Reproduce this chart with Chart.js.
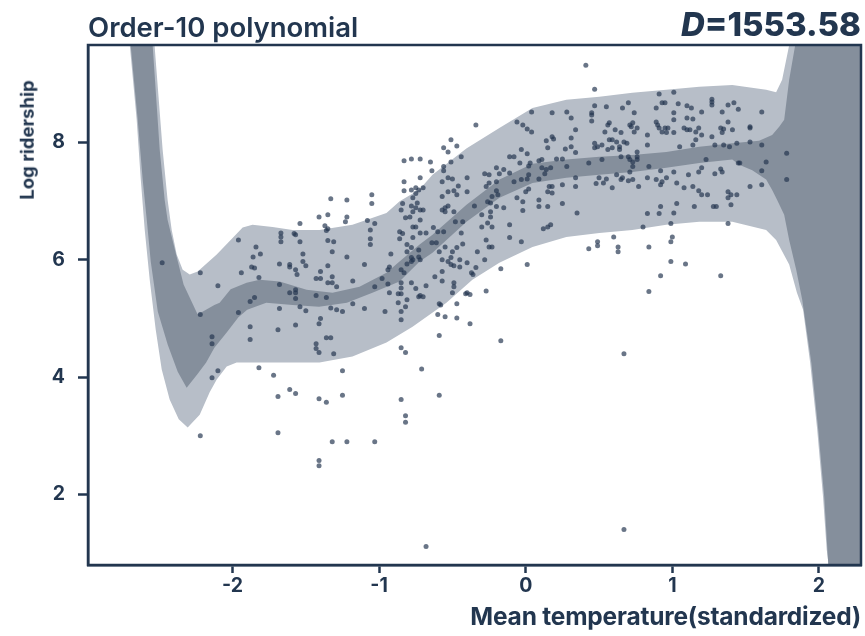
<!DOCTYPE html>
<html>
<head>
<meta charset="utf-8">
<script src="https://cdn.jsdelivr.net/npm/chart.js"></script>
<style>
html,body{margin:0;padding:0;background:#ffffff;}
#wrap{position:relative;width:865px;height:636px;overflow:hidden;}
#c{position:absolute;left:0;top:0;}
.t{position:absolute;font-family:Inter,"Open Sans","DejaVu Sans",sans-serif;color:#22364f;white-space:nowrap;line-height:1;}
#title{left:88px;top:14px;font-size:27.5px;font-weight:600;}
#dval{right:4px;top:8px;font-size:33px;font-weight:800;}
#dval i{font-style:italic;}
#xt{right:4px;top:604px;font-size:24.5px;font-weight:700;letter-spacing:-0.2px;}
#yt{left:27px;top:140px;font-size:18.5px;font-weight:700;transform:translate(-50%,-50%) rotate(-90deg);}
</style>
</head>
<body>
<div id="wrap">
<canvas id="c" width="865" height="636"></canvas>
<div class="t" id="title">Order-10 polynomial</div>
<div class="t" id="dval"><i>D</i>=1553.58</div>
<div class="t" id="xt">Mean temperature(standardized)</div>
<div class="t" id="yt">Log ridership</div>
</div>
<script>
// ---- tick labels ----
const xTicks = [-2, -1, 0, 1, 2];
const yTicks = [2, 4, 6, 8];

// ---- predictive interval (light band) ----
const predHiX = [-2.54,-2.532,-2.477,-2.443,-2.415,-2.381,-2.340,-2.292,-2.238,-2.108,-1.931,-1.864,-1.727,-1.591,-1.407,-1.182,-0.950,-0.860,-0.725,-0.636,-0.405,-0.180,0.046,0.277,0.502,0.727,0.959,1.184,1.409,1.640,1.708,1.749,1.797,1.81,2.4];
const predHiY = [10.0,9.66,7.88,7.02,6.51,6.09,5.83,5.75,5.80,6.09,6.55,6.60,6.56,6.51,6.51,6.60,6.80,7.00,7.20,7.45,7.90,8.25,8.59,8.73,8.78,8.85,8.90,8.95,8.98,8.90,8.86,9.07,9.66,10.0,10.0];
const predLoX = [-2.706,-2.701,-2.654,-2.626,-2.599,-2.565,-2.524,-2.483,-2.429,-2.367,-2.306,-2.224,-2.156,-2.108,-2.04,-1.972,-1.815,-1.591,-1.407,-1.182,-0.950,-0.772,-0.541,-0.364,-0.180,0.046,0.277,0.502,0.727,0.959,1.184,1.409,1.640,1.708,1.797,1.850,1.892,1.940,1.988,2.028,2.053,2.066,2.07,2.4];
const predLoY = [10.0,9.66,8.39,7.37,6.51,5.66,4.81,4.13,3.62,3.28,3.14,3.36,3.74,3.96,4.18,4.25,4.25,4.25,4.25,4.35,4.59,4.86,5.27,5.66,5.95,6.22,6.39,6.46,6.51,6.60,6.65,6.65,6.51,6.34,5.92,5.44,5.15,4.25,3.11,1.96,1.06,0.80,0.5,0.5];

// ---- credible interval of the mean (dark band) ----
const meanHiX = [-2.554,-2.545,-2.497,-2.463,-2.443,-2.402,-2.334,-2.238,-2.124,-2.088,-2.013,-1.904,-1.815,-1.679,-1.495,-1.318,-1.134,-0.950,-0.861,-0.724,-0.636,-0.404,-0.179,0.046,0.277,0.502,0.727,0.959,1.184,1.409,1.592,1.681,1.729,1.763,1.797,1.838,1.85,2.4];
const meanHiY = [10.0,9.66,7.88,7.02,6.68,6.26,5.58,5.07,5.23,5.27,5.50,5.61,5.66,5.63,5.49,5.44,5.54,5.78,5.97,6.26,6.43,6.94,7.37,7.64,7.71,7.76,7.79,7.84,7.93,7.99,8.03,8.13,8.27,8.39,9.07,9.66,10.0,10.0];
const meanLoX = [-2.702,-2.695,-2.647,-2.613,-2.585,-2.558,-2.510,-2.442,-2.374,-2.313,-2.24,-2.18,-2.124,-2.04,-1.96,-1.90,-1.77,-1.59,-1.41,-1.22,-1.046,-0.861,-0.724,-0.636,-0.404,-0.179,0.046,0.277,0.502,0.727,0.959,1.184,1.409,1.456,1.545,1.640,1.681,1.715,1.763,1.797,1.845,1.886,1.948,1.995,2.036,2.064,2.075,2.4];
const meanLoY = [10.0,9.66,8.39,7.37,6.68,5.97,5.12,4.55,4.09,3.82,4.05,4.25,4.50,4.76,5.02,5.15,5.27,5.23,5.20,5.27,5.44,5.63,5.97,6.12,6.65,7.06,7.31,7.40,7.45,7.50,7.57,7.65,7.71,7.62,7.53,7.37,7.19,7.02,6.77,6.34,5.83,5.32,4.25,3.11,1.96,0.80,0.5,0.5];

// ---- observations: [standardized temperature, log ridership] ----
const observations = [
[-2.48,5.95],[-1.96,6.34],[-1.84,6.22],[-1.81,6.10],[-1.86,6.05],[-1.87,5.88],[-1.85,5.86],[-1.94,5.78],[-2.22,5.78],[-2.10,5.56],
[-1.82,5.70],[-1.85,5.36],[-1.88,5.29],[-1.96,5.10],[-2.22,5.07],[-1.88,4.86],[-2.14,4.69],[-2.14,4.57],[-1.88,4.64],[-2.10,4.11],
[-2.14,3.99],[-1.82,4.16],[-2.22,3.00],
[-1.67,6.46],[-1.67,6.39],[-1.67,6.31],[-1.58,6.45],[-1.57,6.43],[-1.54,6.62],[-1.54,6.31],[-1.68,5.93],[-1.61,5.92],[-1.61,5.88],
[-1.57,5.83],[-1.52,6.10],[-1.52,5.97],[-1.50,5.90],[-1.56,5.75],[-1.68,5.58],[-1.61,5.44],[-1.57,5.49],[-1.57,5.44],[-1.57,5.34],
[-1.54,5.20],[-1.50,5.13],[-1.68,5.17],[-1.69,4.81],[-1.57,4.89],[-1.61,3.79],[-1.57,3.72],[-1.69,3.67],[-1.72,4.03],[-1.69,3.05],
[-1.41,6.73],[-1.35,6.77],[-1.37,6.58],[-1.35,6.53],[-1.36,6.50],[-1.35,6.33],[-1.31,6.31],[-1.32,6.14],[-1.40,5.80],[-1.35,5.90],
[-1.43,5.68],[-1.40,5.68],[-1.32,5.71],[-1.32,5.61],[-1.35,5.61],[-1.29,5.54],[-1.43,5.39],[-1.36,5.36],[-1.33,5.18],[-1.29,5.15],
[-1.25,5.12],[-1.40,5.00],[-1.41,4.91],[-1.36,4.67],[-1.33,4.67],[-1.43,4.57],[-1.43,4.49],[-1.41,4.42],[-1.31,4.40],[-1.25,4.11],
[-1.25,3.69],[-1.41,3.63],[-1.36,3.57],[-1.32,2.90],[-1.22,2.90],[-1.03,2.90],[-1.22,6.73],[-1.23,6.65],[-1.22,6.05],[-1.18,5.64],
[-1.18,5.25],[-1.10,5.92],[-1.10,5.17],[-1.08,6.67],[-1.06,6.51],[-1.06,6.36],[-1.06,6.26],[-1.05,6.96],[-1.03,6.62],[-1.03,5.54],
[-0.98,5.68],[-0.96,5.12],[-0.94,5.83],[-0.93,5.88],[-0.94,5.59],[-0.92,6.10],[-0.86,6.36],[-0.84,6.45],[-0.85,6.85],[-0.82,6.72],
[-0.81,6.14],[-0.78,6.92],[-0.77,6.56],[-0.78,6.04],[-0.78,5.97],[-0.85,5.83],[-0.85,5.61],[-0.85,5.52],[-0.85,5.42],[-0.75,5.51],
[-0.81,5.32],[-0.87,5.27],[-0.82,5.20],[-0.85,5.12],[-0.85,4.98],[-0.74,6.97],[-0.93,5.44],[-0.85,4.50],[-0.82,4.42],[-0.85,3.62],
[-0.82,3.34],[-0.82,3.23],[-0.73,6.17],[-0.73,5.37],[-1.41,2.58],[-1.41,2.49],
[-1.33,7.04],[-1.22,7.02],[-1.05,7.11],[-0.83,7.69],[-0.78,7.72],[-0.72,7.72],[-0.65,7.67],[-0.56,7.91],[-0.53,7.84],[-0.64,7.52],
[-0.56,7.59],[-0.56,7.52],[-0.72,7.40],[-0.83,7.33],[-0.83,7.18],[-0.57,7.33],[-0.53,7.40],[-0.73,7.19],[-0.75,7.13],[-0.77,7.06],
[-0.72,6.85],[-0.70,6.85],[-0.57,6.85],[-0.55,6.89],[-0.53,6.92],[-0.72,6.68],
[-0.68,5.56],[-0.57,5.64],[-0.49,5.61],[-0.87,5.42],[-0.72,5.39],[-0.70,5.37],[-0.59,5.25],[-0.47,5.25],[-0.41,5.42],[-0.38,5.41],
[-0.27,5.47],[-0.60,5.07],[-0.55,5.03],[-0.47,5.01],[-0.38,4.91],[-0.59,4.71],[-0.17,4.62],[-0.71,4.14],[-0.59,3.69],[-0.68,1.11],
[0.84,5.46],[0.67,4.40],[0.67,1.40],
[0.41,9.32],[0.47,8.91],[-0.34,8.30],[-0.51,8.05],[-0.47,7.94],[-0.44,7.76],[-0.51,7.67],[-0.50,7.38],[-0.40,7.40],[-0.46,7.26],
[-0.75,7.23],[-0.70,7.23],[-0.84,6.96],[-0.49,7.18],[-0.40,7.16],[-0.27,7.25],[-0.28,7.47],[-0.25,7.45],[-0.18,7.47],[-0.06,8.35],
[-0.02,8.30],[0.01,8.23],[0.04,8.18],[0.04,8.52],[0.18,8.51],[0.28,8.52],[0.31,8.42],[0.45,8.51],[0.45,8.47],[0.47,8.63],
[0.45,8.37],[0.55,8.61],[0.66,8.59],[0.70,8.68],[0.74,8.51],[0.91,8.83],[1.01,8.86],[0.93,8.68],[0.95,8.68],[0.89,8.59],
[1.04,8.66],[1.10,8.63],[1.13,8.59],[1.20,8.52],[1.27,8.69],[1.27,8.64],[1.38,8.64],[1.42,8.68],[1.45,8.57],[1.34,8.52],
[1.61,8.52],[1.53,8.25],[1.61,7.96],[1.64,7.67],[1.61,7.52],[1.61,7.28],[1.53,7.25],[1.53,8.01],[1.44,7.99],[1.45,7.65],
[1.39,7.93],[1.34,8.17],[1.41,8.22],[1.38,8.35],[1.33,8.25],[1.35,8.23],[1.27,8.10],[1.35,7.96],[1.29,7.96],[1.16,8.18],
[1.20,8.13],[1.18,8.25],[1.12,8.22],[1.10,8.22],[1.08,8.25],[1.01,8.17],[0.97,8.25],[0.95,8.25],[0.89,8.35],[0.90,8.30],
[0.91,8.25],[0.93,8.18],[0.96,8.17],[1.01,8.39],[1.01,8.51],[1.14,8.40],[1.10,8.42],[1.14,7.96],[1.05,7.93],[1.16,8.05],
[0.83,8.13],[0.83,7.96],[0.74,8.18],[0.76,8.25],[0.73,8.34],[0.71,8.30],[0.72,8.27],[0.65,8.17],[0.61,8.22],[0.56,8.30],
[0.57,8.34],[0.54,8.18],[0.47,7.91],[0.49,7.93],[0.47,7.99],[0.52,7.96],[0.57,8.05],[0.59,8.05],[0.62,8.01],[0.64,7.93],
[0.67,8.01],[0.69,7.99],[0.64,7.88],[0.59,7.91],[0.56,7.88],[0.76,7.84],[0.76,7.76],[0.73,7.67],[0.76,7.71],[0.71,7.71],
[0.70,7.76],[0.65,7.76],[0.52,7.71],[0.34,8.22],[0.31,8.08],[0.31,7.93],[0.34,7.83],[0.27,7.89],[0.25,7.72],[0.21,7.72],
[0.15,7.91],[0.18,8.10],[0.19,8.06],[0.14,8.03],[0.11,7.71],[0.09,7.69],[0.03,7.65],[0.01,7.81],[-0.03,7.88],[-0.11,7.76],
[-0.08,7.76],[-0.04,7.65],[0.02,7.45],[0.01,7.38],[-0.03,7.37],[0.02,7.60],[0.11,7.57],[0.14,7.54],[0.17,7.57],[0.18,7.25],
[0.16,7.25],[0.15,7.16],[0.18,7.14],[0.09,7.38],[0.13,7.47],[0.25,7.28],[0.34,7.25],[0.34,7.40],[0.28,7.59],[0.43,7.65],
[0.48,7.30],[0.53,7.31],[0.50,7.40],[0.55,7.38],[0.59,7.23],[0.62,7.45],[0.65,7.37],[0.66,7.40],[0.70,7.35],[0.73,7.37],
[0.77,7.25],[0.71,7.50],[0.73,7.59],[0.83,7.40],[0.84,7.59],[0.89,7.37],[0.93,7.33],[0.96,7.40],[0.92,7.28],[0.92,7.52],
[1.01,7.50],[1.03,7.31],[1.08,7.23],[1.11,7.45],[1.14,7.25],[1.18,7.18],[1.20,7.11],[1.24,7.11],[1.20,7.57],[1.18,7.50],
[1.23,7.71],[1.29,7.47],[1.33,7.55],[1.34,7.50],[1.38,7.16],[1.40,7.11],[1.44,7.11],[1.40,6.94],[1.38,7.06],[1.28,6.91],
[1.30,6.91],[1.15,6.91],[1.03,6.96],[1.01,6.80],[0.91,6.79],[0.83,6.79],[0.92,6.91],[0.80,6.56],[0.99,6.62],[1.00,6.39],
[0.99,6.31],[1.09,5.93],[0.99,5.97],[0.92,5.73],[0.84,6.22],[0.63,6.22],[0.63,6.14],[0.60,6.39],[0.49,6.31],[0.49,6.24],
[0.43,6.19],[1.33,5.73],[1.38,6.62],[0.35,6.80],[0.25,6.96],[0.15,6.91],[0.15,6.56],[0.17,6.60],[0.12,6.53],[0.09,6.91],
[0.09,7.02],[-0.02,6.84],[-0.02,6.99],[0.02,7.21],[0.00,7.16],[-0.06,7.06],[-0.08,7.33],[-0.11,7.48],[-0.15,7.54],[-0.20,7.57],
[-0.20,7.33],[-0.20,7.18],[-0.25,7.31],[-0.23,7.08],[-0.19,7.11],[-0.24,6.97],[-0.26,6.99],[-0.30,6.77],[-0.24,6.82],[-0.20,6.91],
[-0.15,6.89],[-0.24,6.73],[-0.26,6.63],[-0.23,6.56],[-0.30,6.56],[-0.27,6.34],[-0.25,6.22],[-0.23,6.22],[-0.28,6.00],[-0.33,6.14],
[-0.34,5.87],[-0.37,5.78],[-0.36,5.75],[-0.40,5.95],[-0.17,5.85],[-0.11,6.38],[-0.11,6.60],[-0.03,6.31],[0.01,5.92],[-0.40,5.44],
[-0.45,5.88],[-0.43,6.27],[-0.47,6.21],[-0.44,6.46],[-0.50,6.14],[-0.51,6.04],[-0.45,6.00],[-0.49,5.90],[-0.57,6.00],[-0.59,6.14],
[-0.61,6.29],[-0.64,6.29],[-0.56,6.48],[-0.60,6.48],[-0.63,6.55],[-0.68,6.46],[-0.72,6.46],[-0.75,6.56],[-0.81,6.26],[-0.78,6.21],
[-0.77,6.00],[-0.73,6.05],[-0.72,6.00],[-0.81,5.93],[-0.83,5.78],[-0.78,5.61],[-0.57,5.80],[-0.53,5.97],[-0.55,6.22],[-0.62,5.71],
[-0.51,5.92],[-0.49,5.54],[-0.58,5.23],[-0.50,5.44],[-0.77,6.38],[-0.86,6.48],[-0.79,6.73],[-0.77,6.82],[-0.75,6.89],[-0.78,7.19],
[-0.55,6.82],[-0.49,6.82],[-0.43,6.65],[-0.48,6.65],[-0.47,7.11],[-0.53,7.16],[-0.57,7.08],[-0.35,6.92],
[1.53,8.27],[1.78,7.82],[1.78,7.37],[1.46,7.65],[1.27,8.74]
];

// ---- build closed band outlines from the edge arrays ----
function band(hx, hy, lx, ly) {
  const pts = [];
  for (let i = 0; i < hx.length; i++) pts.push({x: hx[i], y: hy[i]});
  for (let i = lx.length - 1; i >= 0; i--) pts.push({x: lx[i], y: ly[i]});
  return pts;
}
const C = '#22364f';

const framePlugin = {
  id: 'frame',
  afterDatasetsDraw(chart) {
    const {ctx, chartArea: a} = chart;
    ctx.save();
    ctx.strokeStyle = C;
    ctx.lineWidth = 2.5;
    ctx.strokeRect(a.left, a.top, a.right - a.left, a.bottom - a.top);
    ctx.restore();
  }
};

new Chart(document.getElementById('c'), {
  type: 'scatter',
  data: {
    datasets: [
      {
        label: 'observed',
        data: observations.map(p => ({x: p[0], y: p[1]})),
        pointRadius: 2.5,
        pointBackgroundColor: 'rgba(34,52,78,0.68)',
        pointBorderWidth: 0,
        order: 0
      },
      {
        label: 'mean interval',
        data: band(meanHiX, meanHiY, meanLoX, meanLoY),
        showLine: true,
        fill: 'shape',
        backgroundColor: '#858f9c',
        borderWidth: 0,
        pointRadius: 0,
        tension: 0,
        order: 1
      },
      {
        label: 'predictive interval',
        data: band(predHiX, predHiY, predLoX, predLoY),
        showLine: true,
        fill: 'shape',
        backgroundColor: '#b7bec8',
        borderWidth: 0,
        pointRadius: 0,
        tension: 0,
        order: 2
      }
    ]
  },
  options: {
    responsive: false,
    animation: false,
    events: [],
    layout: {padding: {top: 45, right: 4, bottom: 0, left: 0}},
    plugins: {legend: {display: false}, tooltip: {enabled: false}, title: {display: false}},
    scales: {
      x: {
        type: 'linear',
        min: -2.986,
        max: 2.287,
        afterBuildTicks: s => { s.ticks = xTicks.map(v => ({value: v})); },
        afterFit: s => { s.height = 71; },
        grid: {drawOnChartArea: false, drawTicks: true, tickLength: 8, tickWidth: 2.5, tickColor: C},
        border: {display: true, width: 2.5, color: C},
        ticks: {padding: 1, color: C, maxRotation: 0, autoSkip: false,
                font: {family: 'Inter', size: 19.5, weight: 'bold'},
                callback: v => String(v)}
      },
      y: {
        type: 'linear',
        min: 0.796,
        max: 9.664,
        afterBuildTicks: s => { s.ticks = yTicks.map(v => ({value: v})); },
        afterFit: s => { s.width = 88; },
        grid: {drawOnChartArea: false, drawTicks: true, tickLength: 10, tickWidth: 2.5, tickColor: C},
        border: {display: true, width: 2.5, color: C},
        ticks: {padding: 13, color: C, autoSkip: false,
                font: {family: 'Inter', size: 19.5, weight: 'bold'},
                callback: v => String(v)}
      }
    }
  },
  plugins: [framePlugin]
});
</script>
</body>
</html>
